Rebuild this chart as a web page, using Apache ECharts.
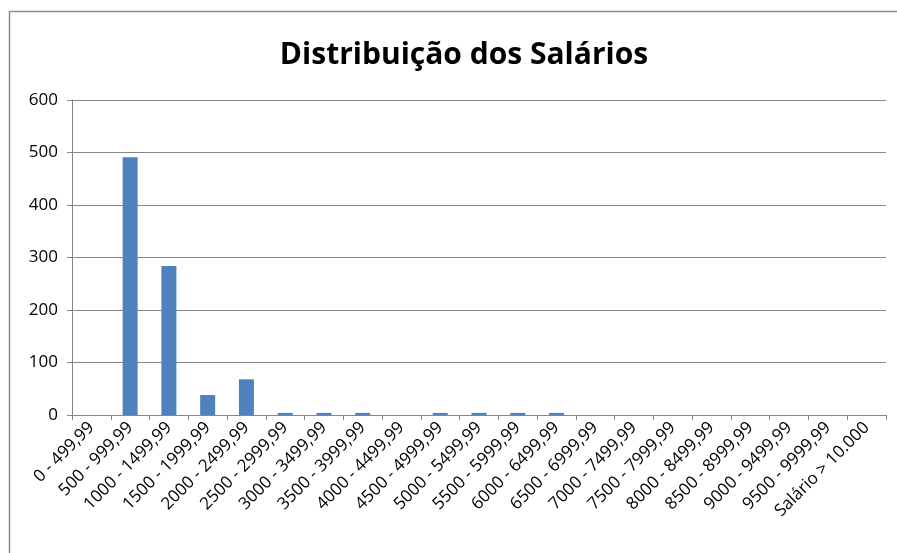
<!DOCTYPE html>
<html>
<head>
<meta charset="utf-8">
<script src="https://cdn.jsdelivr.net/npm/echarts@6/dist/echarts.min.js"></script>
<style>
  html, body { margin: 0; padding: 0; background: #fff; }
  #chart-container { width: 897px; height: 553px; }
</style>
</head>
<body>
<div id="chart-container"></div>
<script>
var dom = document.getElementById("chart-container");
var myChart = echarts.init(dom, null, { renderer: "canvas" });

// faixas salariais
const categories = [
  "0 - 499,99", "500 - 999,99", "1000 - 1499,99", "1500 - 1999,99",
  "2000 - 2499,99", "2500 - 2999,99", "3000 - 3499,99", "3500 - 3999,99",
  "4000 - 4499,99", "4500 - 4999,99", "5000 - 5499,99", "5500 - 5999,99",
  "6000 - 6499,99", "6500 - 6999,99", "7000 - 7499,99", "7500 - 7999,99",
  "8000 - 8499,99", "8500 - 8999,99", "9000 - 9499,99", "9500 - 9999,99",
  "Salário > 10.000"
];
const counts = [0, 491, 284, 38, 68, 4, 4, 4, 0, 4, 4, 4, 4, 0, 0, 0, 0, 0, 0, 0, 0];

const yMin = 0;
const yMax = 600;
const yStep = 100;

const fontFamily = "Open Sans, Noto Sans, sans-serif";

var option = {
  animation: false,
  backgroundColor: "#fff",
  title: {
    text: "Distribuição dos Salários",
    left: 459,
    textAlign: "center",
    top: 35,
    textStyle: {
      fontFamily: fontFamily,
      fontSize: 30,
      fontWeight: "bold",
      color: "#000",
    },
  },
  graphic: [
    // chart frame (left + top edge only, as in the source image)
    {
      type: "polyline",
      shape: { points: [[9.5, 553], [9.5, 11.5], [897, 11.5]] },
      style: { stroke: "#8c8c8c", lineWidth: 1.5, fill: null },
      silent: true,
    },
  ],
  grid: {
    left: 72,
    right: 11,
    top: 100,
    bottom: 138,
  },
  xAxis: {
    type: "category",
    data: categories,
    axisLine: { lineStyle: { color: "#868686", width: 1 } },
    axisTick: { show: true, length: 5, lineStyle: { color: "#868686" } },
    axisLabel: {
      interval: 0,
      rotate: 45,
      fontFamily: fontFamily,
      fontSize: 17,
      color: "#000",
      margin: 10,
    },
  },
  yAxis: {
    type: "value",
    min: yMin,
    max: yMax,
    interval: yStep,
    axisLine: { show: true, lineStyle: { color: "#868686" } },
    axisTick: { show: true, length: 5, lineStyle: { color: "#868686" } },
    splitLine: { show: true, lineStyle: { color: "#868686", width: 1 } },
    axisLabel: {
      fontFamily: fontFamily,
      fontSize: 17,
      color: "#000",
      margin: 14,
    },
  },
  series: [
    {
      type: "bar",
      data: counts,
      barWidth: 15,
      itemStyle: { color: "#4f81bd" },
    },
  ],
};

myChart.setOption(option);
window.addEventListener("resize", myChart.resize);
</script>
</body>
</html>
